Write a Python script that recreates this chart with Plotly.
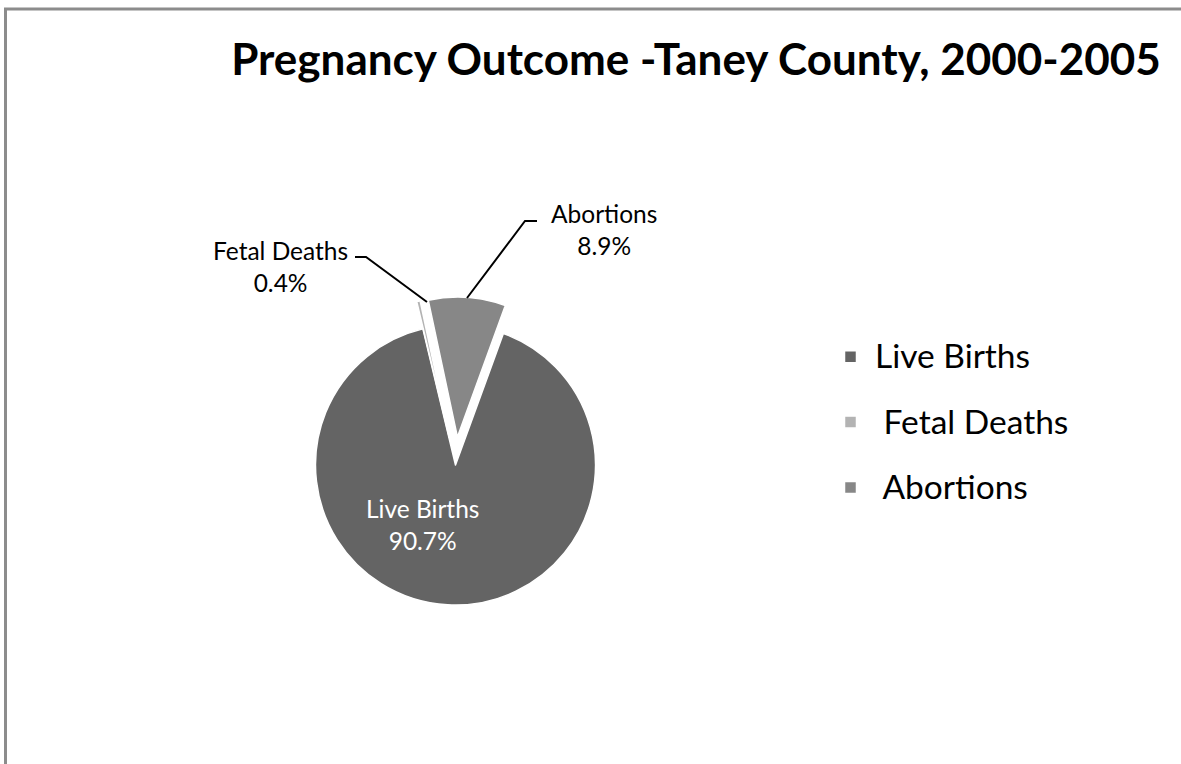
import plotly.graph_objects as go

# ---- data ----
labels = ["Live Births", " Fetal Deaths", " Abortions"]
values = [90.7, 0.4, 8.9]
colors = ["#646464", "#b3b3b3", "#878787"]
pulls = [0.0, 0.2, 0.2]
title_text = "Pregnancy Outcome -Taney County, 2000-2005"

W, H = 1181, 764
FONT = "Lato"


def px(x):
    return x / W


def py(y):
    return 1 - y / H


total = sum(values)
pcts = [v / total * 100 for v in values]

# legend labels: keep entry spacing large while the text stays moderate
def legend_label(l):
    stripped = l.lstrip(" ")
    lead = "\u00a0" * (len(l) - len(stripped))
    return f"<span style='font-size:33.5px;baseline-shift:7px'>{lead}{stripped}</span>"

legend_labels = [legend_label(l) for l in labels]

# pie domain (pixel centre and half-size)
cx, cy, half = 455.5, 465.0, 168.0

fig = go.Figure(
    go.Pie(
        labels=legend_labels,
        values=values,
        sort=False,
        direction="clockwise",
        rotation=20,
        pull=pulls,
        marker=dict(colors=colors, line=dict(color="white", width=1.5)),
        textinfo="none",
        hoverinfo="skip",
        domain=dict(x=[px(cx - half), px(cx + half)], y=[py(cy + half), py(cy - half)]),
    )
)

# slice labels
label_pos = [(422, 524, "white"), (280, 266, "black"), (604, 229, "black")]
annotations = []
for (lx, ly, col), lbl, p in zip(label_pos, labels, pcts):
    annotations.append(
        dict(
            x=px(lx), y=py(ly), xref="paper", yref="paper",
            text=f"{lbl.strip()}<br>{p:.1f}%", showarrow=False,
            xanchor="center", yanchor="middle",
            font=dict(family=FONT, size=24.5, color=col),
        )
    )

# leader lines
def path(points):
    return "M " + " L ".join(f"{px(x)},{py(y)}" for x, y in points)

shapes = [
    dict(type="path", xref="paper", yref="paper",
         path=path([(355, 257), (366, 257), (427, 302)]),
         line=dict(color="black", width=2)),
    dict(type="path", xref="paper", yref="paper",
         path=path([(537, 221), (525, 221), (467, 298)]),
         line=dict(color="black", width=2)),
    # chart border
    dict(type="rect", xref="paper", yref="paper",
         x0=px(5.5), y0=py(790), x1=px(1200), y1=py(9),
         line=dict(color="#8c8c8c", width=3), layer="above"),
]

fig.update_layout(
    width=W, height=H,
    margin=dict(l=0, r=0, t=0, b=0),
    paper_bgcolor="white",
    plot_bgcolor="white",
    title=dict(
        text=f"<b>{title_text}</b>",
        x=px(696), xanchor="center",
        y=py(60), yanchor="middle",
        font=dict(family=FONT, size=44, color="black"),
    ),
    showlegend=True,
    legend=dict(
        x=px(826), xanchor="left",
        y=py(319), yanchor="top",
        itemwidth=39,
        font=dict(family=FONT, size=48, color="black"),
        bgcolor="rgba(0,0,0,0)",
    ),
    annotations=annotations,
    shapes=shapes,
)

fig.write_html(
    "out.html",
    config={"displayModeBar": False},
    post_script="document.body.style.margin='0px';",
)
